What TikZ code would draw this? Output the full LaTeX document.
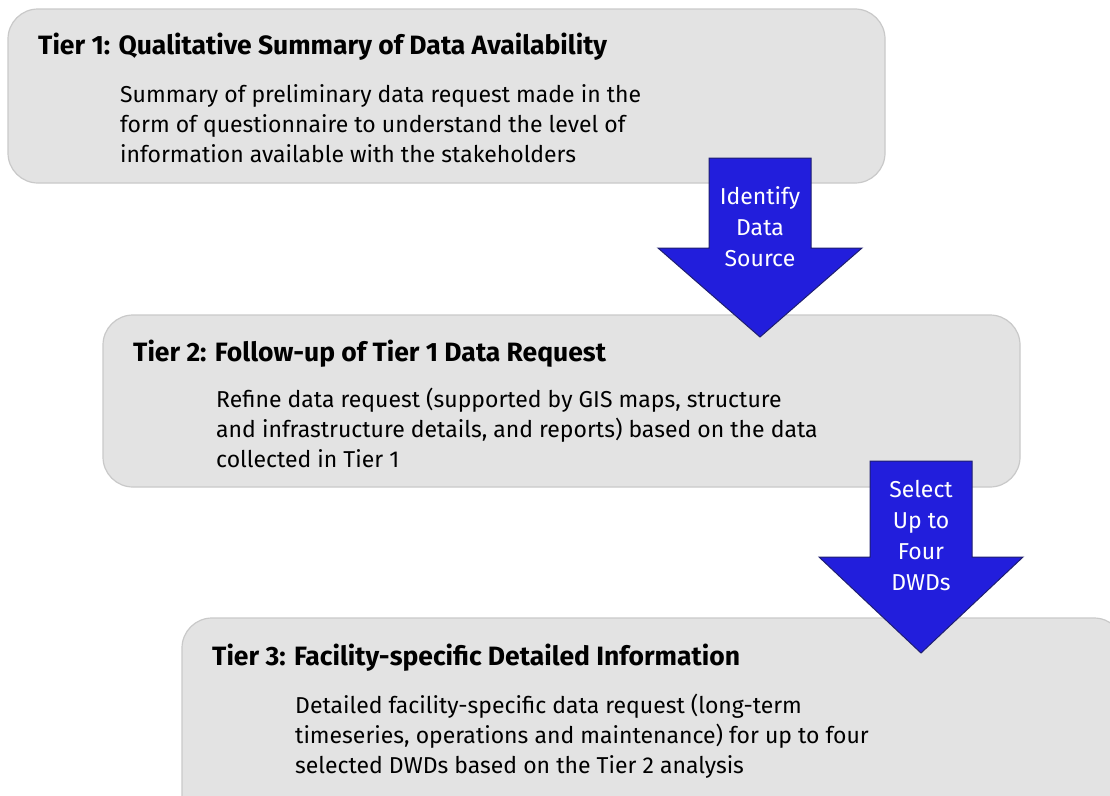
\documentclass[tikz,border=0pt]{standalone}
\usepackage{fontspec}
\setmainfont{Fira Sans}
\definecolor{boxfill}{HTML}{E3E3E3}
\definecolor{boxline}{HTML}{C9C9C9}
\definecolor{arrowblue}{HTML}{221EDC}
\definecolor{arrowline}{HTML}{1E1E70}
\begin{document}
\begin{tikzpicture}[x=1pt,y=-1pt,
  tierbox/.style={draw=boxline, fill=boxfill, line width=1.2pt, rounded corners=30pt},
  bigarrow/.style={draw=arrowline, fill=arrowblue, line width=1pt, line join=miter},
  tiertitle/.style={anchor=base west, inner sep=0pt, font=\fontsize{26.5}{30}\selectfont\bfseries},
  tierbody/.style={anchor=base west, inner sep=0pt, align=left, font=\fontsize{23}{30}\selectfont},
  arrowtext/.style={inner sep=0pt, align=center, text=white, font=\fontsize{23}{31}\selectfont}]
\useasboundingbox (0,0) rectangle (1110,795);
\begin{scope}
\clip (0,0) rectangle (1110,795);
% boxes
\draw[tierbox] (8,9) rectangle (885,183);
\draw[tierbox] (103,315) rectangle (1020,487);
% arrow 1
\draw[bigarrow] (709,158) -- (811,158) -- (811,248) -- (862,248) -- (760,337) -- (658,248) -- (709,248) -- cycle;
\draw[tierbox] (182,618) rectangle (1124,830);
% arrow 2
\draw[bigarrow] (870,461) -- (972,461) -- (972,557) -- (1023,557) -- (921,653) -- (819,557) -- (870,557) -- cycle;
\end{scope}
% texts
\node[tiertitle] (t1) at (38,54) {Tier 1: Qualitative Summary of Data Availability};
\node[tierbody] (b1) at (120,162) {Summary of preliminary data request made in the\\form of questionnaire to understand the level of\\information available with the stakeholders};
\node[tiertitle] (t2) at (133,361) {Tier 2: Follow-up of Tier 1 Data Request};
\node[tierbody] (b2) at (216,467) {Refine data request (supported by GIS maps, structure\\and infrastructure details, and reports) based on the data\\collected in Tier 1};
\node[tiertitle] (t3) at (212,665) {Tier 3: Facility-specific Detailed Information};
\node[tierbody] (b3) at (295,773) {Detailed facility-specific data request (long-term\\timeseries, operations and maintenance) for up to four\\selected DWDs based on the Tier 2 analysis};
\node[arrowtext] (a1) at (760,227) {Identify\\Data\\Source};
\node[arrowtext] (a2) at (921,535.5) {Select\\Up to\\Four\\DWDs};
\end{tikzpicture}
\end{document}
